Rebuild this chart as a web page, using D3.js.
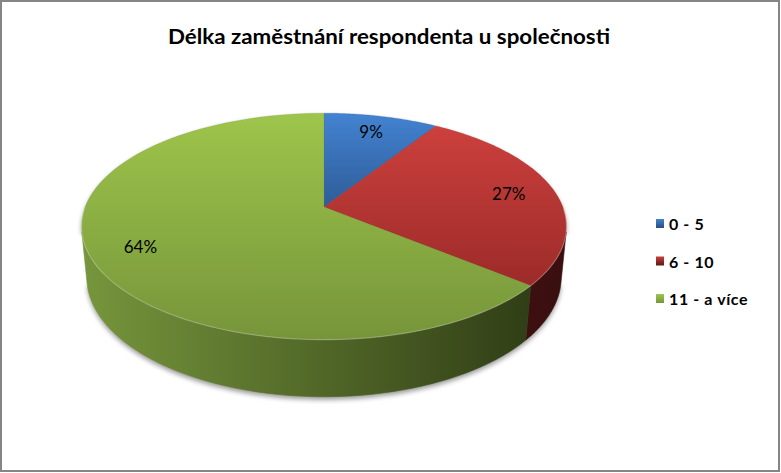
<!DOCTYPE html>
<html lang="cs">
<head>
    <meta charset="UTF-8">
    <title>Délka zaměstnání respondenta u společnosti</title>
    <script src="https://d3js.org/d3.v7.min.js"></script>
    <style>
        body { margin: 0; background: #fff; }
        svg { display: block; }
    </style>
</head>
<body>
    <div id="chart"></div>

    <script>
        // data
        const categories = ["0 - 5", "6 - 10", "11 - a více"];
        const values = [9, 27, 64];
        const titleText = "Délka zaměstnání respondenta u společnosti";

        // colours: top face (light, dark), wall (light, dark)
        const topColors = [["#4383d1", "#2e5c98"], ["#cc403d", "#9c2b29"], ["#9ec54b", "#76953a"]];
        const wallColors = [["#2a4d7c", "#14263e"], ["#5a1818", "#3a0f0f"], ["#76963c", "#2b3713"]];

        const width = 781, height = 473;

        const svg = d3.select("#chart").append("svg")
            .attr("width", width)
            .attr("height", height);

        const defs = svg.append("defs");

        // border of the chart area
        svg.append("rect")
            .attr("x", 1).attr("y", 1)
            .attr("width", width - 3).attr("height", height - 3)
            .attr("fill", "#fff")
            .attr("stroke", "#858585")
            .attr("stroke-width", 2);

        // title
        svg.append("text")
            .attr("x", 389).attr("y", 44)
            .attr("text-anchor", "middle")
            .attr("font-family", "Lato, 'Open Sans', sans-serif")
            .attr("font-weight", "bold")
            .attr("font-size", 20)
            .attr("textLength", 442)
            .attr("lengthAdjust", "spacingAndGlyphs")
            .text(titleText);

        // 3D projection of the pie (perspective, tilted disc)
        const cam = {cx: 324, cy: 207, f: 1235, dist: 5.17, elev: 27.4 * Math.PI / 180, depth: 0.242};
        const sinE = Math.sin(cam.elev), cosE = Math.cos(cam.elev);

        // phi: clockwise from back (12 o'clock), r: radius 0..1, yw: height (0 top, -depth bottom)
        function project(phi, r, yw) {
            const x = r * Math.sin(phi), z = -r * Math.cos(phi);
            const d = cam.dist - (yw * sinE + z * cosE);
            return [cam.cx + cam.f * x / d, cam.cy + cam.f * (z * sinE - yw * cosE) / d];
        }

        function rim(a, b, yw, n) {
            const pts = [];
            for (let i = 0; i <= n; i++) {
                pts.push(project(a + (b - a) * i / n, 1, yw));
            }
            return pts;
        }

        const pie = d3.pie().sort(null).value(d => d)(values);
        const total = d3.sum(values);
        const pct = d3.format(".0%");

        // walls facing the viewer
        const wallLo = Math.acos(-1 / (cam.dist * cosE));
        const wallHi = 2 * Math.PI - wallLo;

        const line = d3.line().curve(d3.curveLinear);

        // gradients
        pie.forEach((p, i) => {
            const gt = defs.append("linearGradient")
                .attr("id", "top" + i)
                .attr("x1", 0).attr("y1", 0).attr("x2", 0).attr("y2", 1);
            gt.append("stop").attr("offset", "0%").attr("stop-color", topColors[i][0]);
            gt.append("stop").attr("offset", "100%").attr("stop-color", topColors[i][1]);

            const gw = defs.append("linearGradient")
                .attr("id", "wall" + i)
                .attr("gradientUnits", "userSpaceOnUse")
                .attr("x1", project(wallHi, 1, 0)[0]).attr("y1", 0)
                .attr("x2", project(wallLo, 1, 0)[0]).attr("y2", 0);
            gw.append("stop").attr("offset", "0%").attr("stop-color", wallColors[i][0]);
            gw.append("stop").attr("offset", "100%").attr("stop-color", wallColors[i][1]);

            const gl = defs.append("linearGradient")
                .attr("id", "leg" + i)
                .attr("x1", 0).attr("y1", 0).attr("x2", 0).attr("y2", 1);
            gl.append("stop").attr("offset", "0%").attr("stop-color", topColors[i][0]);
            gl.append("stop").attr("offset", "100%").attr("stop-color", wallColors[i][0]);
        });

        // shadow
        const blur = defs.append("filter").attr("id", "shadow")
            .attr("x", "-10%").attr("y", "-10%").attr("width", "120%").attr("height", "130%");
        blur.append("feGaussianBlur").attr("stdDeviation", 2.5);

        const outline = rim(0, 2 * Math.PI, 0, 180)
            .filter((pt, k) => { const phi = 2 * Math.PI * k / 180; return phi <= wallLo || phi >= wallHi; })
            .concat(rim(wallLo, wallHi, -cam.depth, 120));
        svg.append("path")
            .attr("d", line(outline) + "Z")
            .attr("transform", "translate(0,3)")
            .attr("fill", "#000")
            .attr("opacity", 0.4)
            .attr("filter", "url(#shadow)");

        const pieG = svg.append("g");

        // side walls
        pie.forEach((p, i) => {
            const a = Math.max(p.startAngle, wallLo), b = Math.min(p.endAngle, wallHi);
            if (b <= a) return;
            const pts = rim(a, b, 0, 60).concat(rim(b, a, -cam.depth, 60));
            pieG.append("path")
                .attr("d", line(pts) + "Z")
                .attr("fill", `url(#wall${i})`)
                .attr("stroke", `url(#wall${i})`)
                .attr("stroke-width", 0.6);
        });

        // top faces
        pie.forEach((p, i) => {
            const pts = [[cam.cx, cam.cy]].concat(rim(p.startAngle, p.endAngle, 0, 90));
            pieG.append("path")
                .attr("d", line(pts) + "Z")
                .attr("fill", `url(#top${i})`)
                .attr("stroke", topColors[i][1])
                .attr("stroke-width", 0.5)
                .attr("stroke-opacity", 0.5);
        });

        // light bevel along the front rim
        pieG.append("path")
            .attr("d", line(rim(wallLo - 0.2, wallHi + 0.2, 0, 120)))
            .attr("fill", "none")
            .attr("stroke", "#fff")
            .attr("stroke-opacity", 0.25)
            .attr("stroke-width", 1.2);

        // percentage labels
        pie.forEach((p, i) => {
            const pos = project((p.startAngle + p.endAngle) / 2, 0.8, 0);
            svg.append("text")
                .attr("x", pos[0]).attr("y", pos[1] + 6)
                .attr("text-anchor", "middle")
                .attr("font-family", "Lato, 'Open Sans', sans-serif")
                .attr("font-size", 17)
                .attr("fill", "#000")
                .text(pct(p.value / total));
        });

        // legend
        const legendY = d3.scalePoint().domain(categories).range([224, 299]);
        const legend = svg.append("g");
        categories.forEach((c, i) => {
            legend.append("rect")
                .attr("x", 656).attr("y", legendY(c) - 5)
                .attr("width", 8).attr("height", 9)
                .attr("fill", `url(#leg${i})`);
            legend.append("text")
                .attr("x", 669).attr("y", legendY(c) + 6)
                .attr("font-family", "Lato, 'Open Sans', sans-serif")
                .attr("font-weight", "bold")
                .attr("font-size", 16)
                .attr("letter-spacing", 0.6)
                .attr("fill", "#000")
                .text(c);
        });
    </script>
</body>
</html>
